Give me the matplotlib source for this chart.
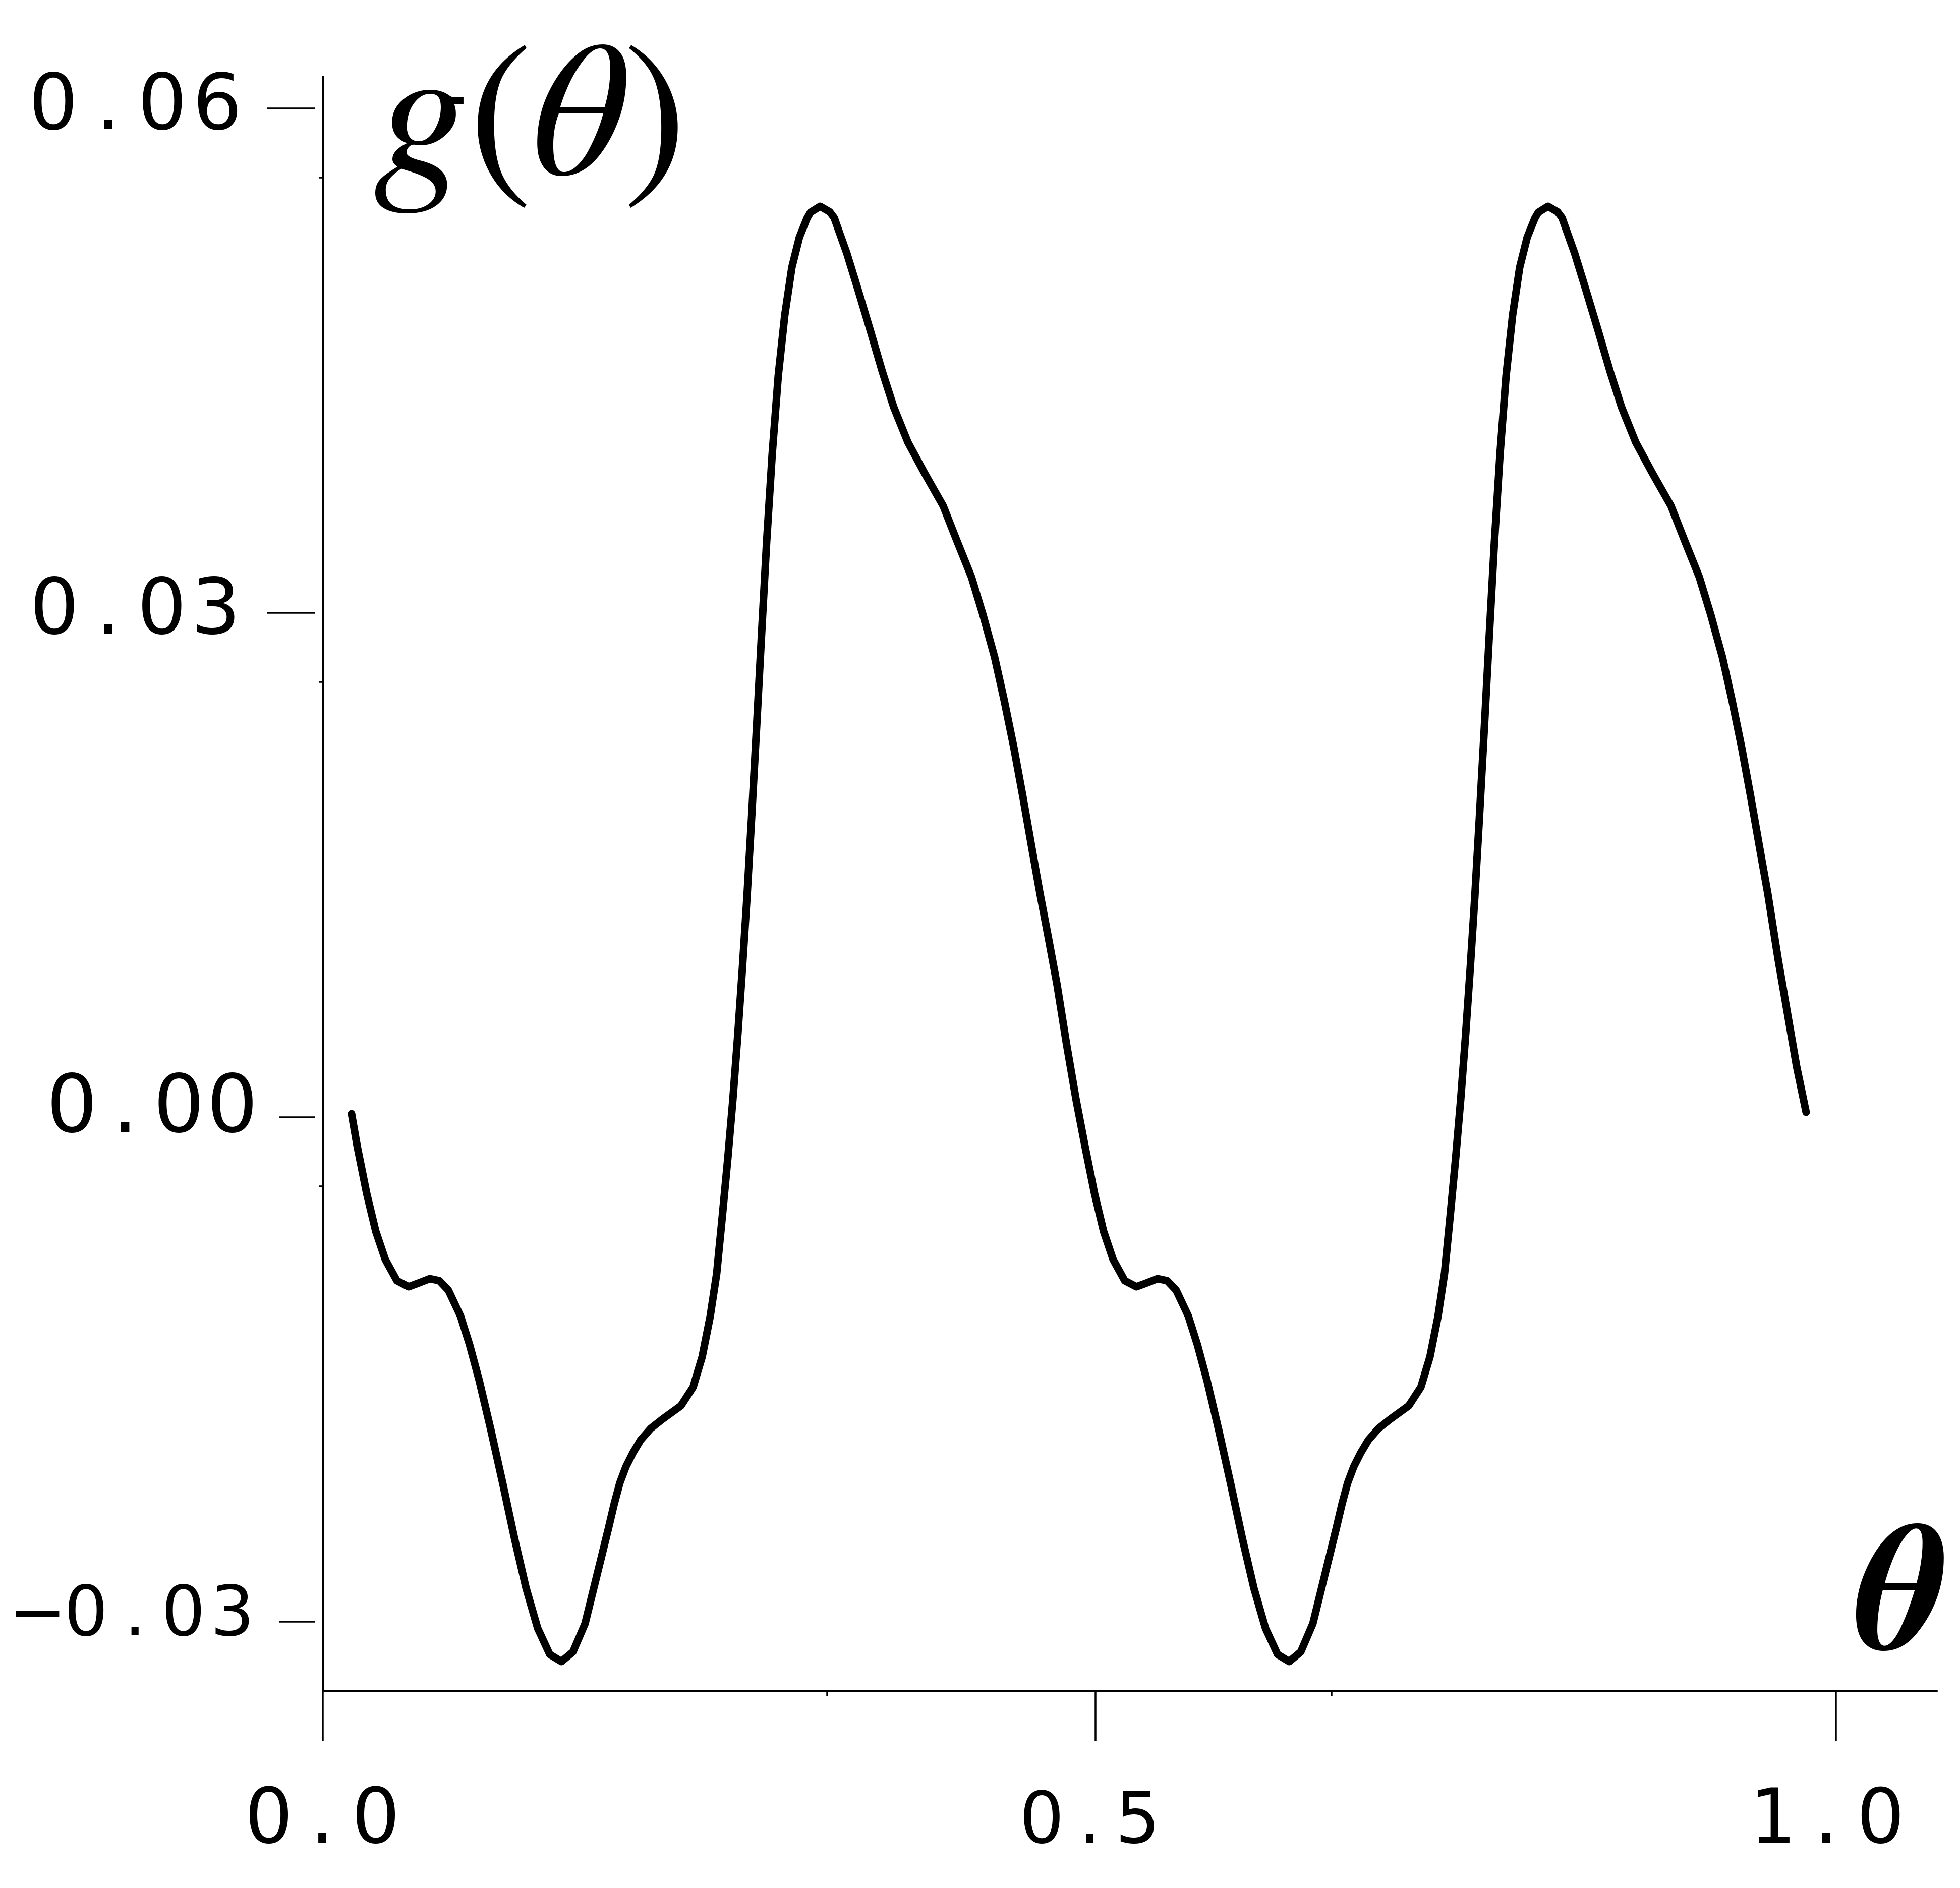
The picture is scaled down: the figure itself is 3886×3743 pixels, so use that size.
"""
Redraw the g(theta) curve (two periods) in the old-style plot layout.

Values were read off the reference picture. Saves ``out.png``.
"""

from __future__ import annotations

import matplotlib

matplotlib.use("Agg")
import matplotlib.pyplot as plt

# ---------------------------------------------------------------- data
theta_1 = [
    0.0190, 0.0227, 0.0290, 0.0350, 0.0413, 0.0490, 0.0567, 0.0630, 0.0707,
    0.0770, 0.0830, 0.0910, 0.0970, 0.1033, 0.1110, 0.1190, 0.1267, 0.1343,
    0.1420, 0.1500, 0.1577, 0.1653, 0.1733, 0.1810, 0.1887,
    0.1927, 0.1963, 0.2003, 0.2050, 0.2100, 0.2167, 0.2243, 0.2367, 0.2447,
    0.2507, 0.2560,
    0.2603, 0.2640, 0.2677, 0.2710, 0.2743, 0.2773, 0.2803, 0.2833, 0.2867,
    0.2900, 0.2933, 0.2970, 0.3010, 0.3053, 0.3100, 0.3150, 0.3200,
    0.3223, 0.3287, 0.3350, 0.3380,
    0.3463, 0.3540, 0.3620, 0.3697, 0.3773, 0.3867, 0.3977, 0.4100, 0.4193,
    0.4287, 0.4363, 0.4440, 0.4503, 0.4567, 0.4627, 0.4690, 0.4740, 0.4797,
    0.4853, 0.4913, 0.4977,
]
g_1 = [
    0.00021, -0.00171, -0.00453, -0.00678, -0.00846, -0.00972, -0.01008,
    -0.00987, -0.00960, -0.00972, -0.01029, -0.01182, -0.01353, -0.01563,
    -0.01857, -0.02181, -0.02505, -0.02799, -0.03039, -0.03195, -0.03237,
    -0.03180, -0.03012, -0.02730, -0.02448,
    -0.02295, -0.02175, -0.02079, -0.01995, -0.01920, -0.01851, -0.01797,
    -0.01716, -0.01605, -0.01425, -0.01185,
    -0.00930, -0.00591, -0.00240, 0.00105, 0.00495, 0.00885, 0.01305,
    0.01770, 0.02325, 0.02880, 0.03420, 0.03945, 0.04410, 0.04770, 0.05055,
    0.05235, 0.05346,
    0.05382, 0.05418, 0.05385, 0.05349,
    0.05139, 0.04914, 0.04674, 0.04437, 0.04224, 0.04014, 0.03831, 0.03636,
    0.03423, 0.03213, 0.02988, 0.02736, 0.02481, 0.02199, 0.01905, 0.01581,
    0.01329, 0.01059, 0.00786, 0.00447, 0.00111,
]
theta_2 = [
    0.5037, 0.5100, 0.5160, 0.5223, 0.5300, 0.5377, 0.5440, 0.5517,
    0.5580, 0.5640, 0.5720, 0.5780, 0.5843, 0.5920, 0.6000, 0.6077, 0.6153,
    0.6230, 0.6310, 0.6387, 0.6463, 0.6543, 0.6620, 0.6697,
    0.6737, 0.6773, 0.6813, 0.6860, 0.6910, 0.6977, 0.7053, 0.7177, 0.7257,
    0.7317, 0.7370,
    0.7413, 0.7450, 0.7487, 0.7520, 0.7553, 0.7583, 0.7613, 0.7643, 0.7677,
    0.7710, 0.7743, 0.7780, 0.7820, 0.7863, 0.7910, 0.7960, 0.8010,
    0.8033, 0.8097, 0.8160, 0.8190,
    0.8273, 0.8350, 0.8430, 0.8507, 0.8583, 0.8677, 0.8787, 0.8910, 0.9003,
    0.9097, 0.9173, 0.9250, 0.9313, 0.9377, 0.9437, 0.9500, 0.9550,
    0.9617, 0.9740, 0.9803,
]
g_2 = [
    -0.00171, -0.00453, -0.00678, -0.00846, -0.00972, -0.01008,
    -0.00987, -0.00960, -0.00972, -0.01029, -0.01182, -0.01353, -0.01563,
    -0.01857, -0.02181, -0.02505, -0.02799, -0.03039, -0.03195, -0.03237,
    -0.03180, -0.03012, -0.02730, -0.02448,
    -0.02295, -0.02175, -0.02079, -0.01995, -0.01920, -0.01851, -0.01797,
    -0.01716, -0.01605, -0.01425, -0.01185,
    -0.00930, -0.00591, -0.00240, 0.00105, 0.00495, 0.00885, 0.01305,
    0.01770, 0.02325, 0.02880, 0.03420, 0.03945, 0.04410, 0.04770, 0.05055,
    0.05235, 0.05346,
    0.05382, 0.05418, 0.05385, 0.05349,
    0.05139, 0.04914, 0.04674, 0.04437, 0.04224, 0.04014, 0.03831, 0.03636,
    0.03423, 0.03213, 0.02988, 0.02736, 0.02481, 0.02199, 0.01905, 0.01581,
    0.01329,
    0.00945, 0.00303, 0.00030,
]

y_ticks = [0.06, 0.03, 0.00, -0.03]
y_labels = ["0.06", "0.03", "0.00", "\u22120.03"]
y_minor = [0.0559, 0.0259, -0.0041]
x_ticks = [0.0, 0.5107, 1.0]
x_labels = ["0.0", "0.5", "1.0"]
x_minor = [0.3333, 0.6667]

# ---------------------------------------------------------------- layout
DPI = 100
PT = 72.0 / DPI  # points per pixel
W_PX, H_PX = 3887, 3743
AX_LEFT, AX_RIGHT, AX_TOP, AX_BOTTOM = 640, 3839, 152, 3352  # pixels

# per label: first char centre dx, char pitch, baseline dy, digit height (px)
y_label_layout = [(-534, 108, 41, 112), (-532, 106.5, 41, 112),
                  (-498, 106, 29, 116), (-566, 96.5, 27, 100)]
y_tick_start = [530, 530, 553, 553]
y_tick_end = 625
x_label_layout = [(-107, 106, 301, 110), (-107, 95, 301, 102),
                  (-127, 107.5, 301, 109)]


def spaced_label(ax, text, xy, xycoords, first_dx, pitch, base_dy, height):
    """Draw a label one character at a time with a fixed pitch (pixels)."""
    size = height / 0.729 * PT
    for i, ch in enumerate(text):
        # the '1' with a foot comes from the mono face, the rest plain sans
        family = "DejaVu Sans Mono" if ch == "1" else "DejaVu Sans"
        ax.annotate(ch, xy=xy, xycoords=xycoords,
                    xytext=((first_dx + i * pitch) * PT, -base_dy * PT),
                    textcoords="offset points", ha="center", va="baseline",
                    fontsize=size, family=family, color="black",
                    annotation_clip=False)


def main() -> None:
    plt.rcParams["mathtext.fontset"] = "stix"
    fig = plt.figure(figsize=(W_PX / DPI, H_PX / DPI), dpi=DPI)
    fig.patch.set_facecolor("white")

    ax = fig.add_axes([AX_LEFT / W_PX, 1 - AX_BOTTOM / H_PX,
                       (AX_RIGHT - AX_LEFT) / W_PX,
                       (AX_BOTTOM - AX_TOP) / H_PX])
    ax.set_xlim(0, (AX_RIGHT - AX_LEFT) / 3000.0)
    ax.set_ylim((2215 - AX_BOTTOM) * 3e-5, (2215 - AX_TOP) * 3e-5)

    for side in ("top", "right"):
        ax.spines[side].set_visible(False)
    for side in ("left", "bottom"):
        ax.spines[side].set_linewidth(4.5 * PT)

    # curve
    ax.plot(theta_1 + theta_2, g_1 + g_2, color="black", lw=15 * PT,
            solid_capstyle="round", solid_joinstyle="round", clip_on=False)

    # x ticks
    ax.set_xticks(x_ticks)
    ax.set_xticklabels([])
    ax.set_xticks(x_minor, minor=True)
    ax.tick_params(axis="x", which="major", direction="out",
                   length=99 * PT, width=3.5 * PT)
    ax.tick_params(axis="x", which="minor", direction="out",
                   length=10 * PT, width=3.5 * PT)

    # y ticks: small original ticks plus detached labelled marks
    ax.set_yticks([])
    ax.set_yticks(y_minor, minor=True)
    ax.tick_params(axis="y", which="minor", direction="out",
                   length=7 * PT, width=3.5 * PT)
    ax_w = AX_RIGHT - AX_LEFT
    ytrans = ax.get_yaxis_transform()
    for val, x0 in zip(y_ticks, y_tick_start):
        ax.plot([(x0 - AX_LEFT) / ax_w, (y_tick_end - AX_LEFT) / ax_w],
                [val, val], transform=ytrans, color="black", lw=3.5 * PT,
                solid_capstyle="butt", clip_on=False)

    for val, lab, lay in zip(y_ticks, y_labels, y_label_layout):
        spaced_label(ax, lab, (0, val), ytrans, *lay)
    xtrans = ax.get_xaxis_transform()
    for val, lab, lay in zip(x_ticks, x_labels, x_label_layout):
        spaced_label(ax, lab, (val, 0), xtrans, *lay)

    # axis names
    fig.text(740 / W_PX, 1 - 345 / H_PX, r"$g(\theta)$", fontsize=272,
             ha="left", va="baseline", color="black")
    fig.text(3680 / W_PX, 1 - 3268 / H_PX, "\u03b8", family="STIXGeneral",
             style="italic", weight="bold", fontsize=255,
             ha="left", va="baseline", color="black")

    fig.savefig("out.png", dpi=DPI, facecolor="white")
    plt.close(fig)


if __name__ == "__main__":
    main()
